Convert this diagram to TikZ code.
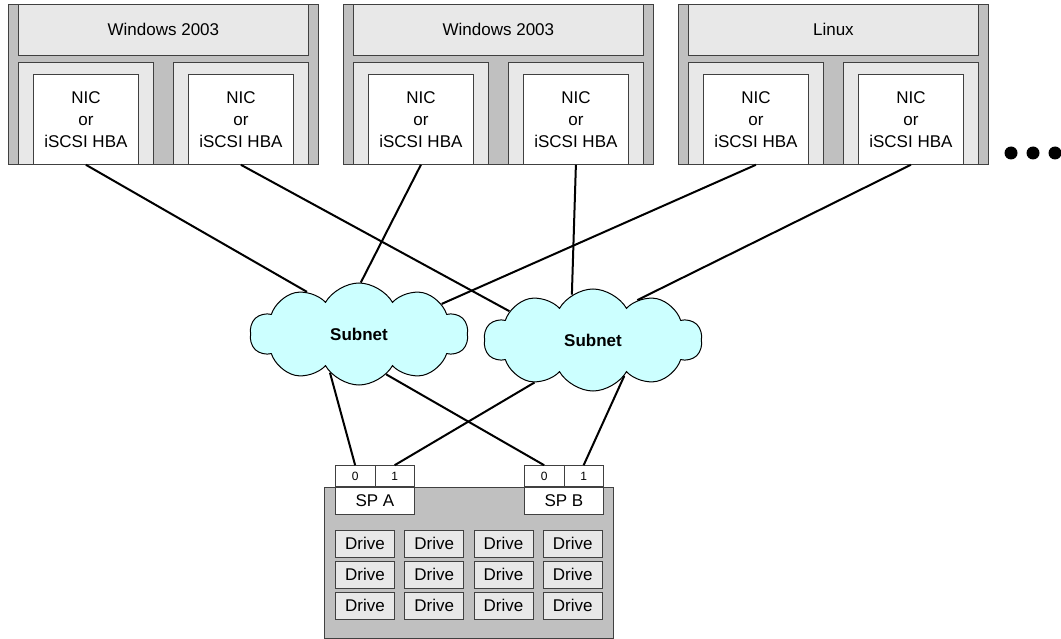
\documentclass[tikz,border=0pt]{standalone}
\usepackage{fontspec}
\setmainfont{Liberation Sans}
\usepackage{tikz}
\usetikzlibrary{positioning, shapes.symbols}

\definecolor{srvdark}{RGB}{192,192,192}
\definecolor{srvlight}{RGB}{232,232,232}
\definecolor{netcyan}{RGB}{204,255,255}

\begin{document}
\begin{tikzpicture}[
    x=1pt, y=1pt,
    font=\fontsize{17}{22}\selectfont,
    box/.style={rectangle, draw=black!75, line width=0.8pt, inner sep=0pt},
    server/.style={box, fill=srvdark, minimum width=310pt, minimum height=160pt},
    header/.style={box, fill=srvlight, minimum width=290pt, minimum height=51pt},
    panel/.style={box, fill=srvlight, minimum width=135pt, minimum height=102pt},
    nic/.style={box, fill=white, align=center, minimum width=105pt, minimum height=90pt},
    subnet/.style={cloud, draw=black, fill=netcyan, line width=1pt, cloud puffs=10, cloud puff arc=120,
        cloud ignores aspect, minimum width=218pt, minimum height=102pt, font=\bfseries\fontsize{17}{20}\selectfont},
    storage/.style={box, fill=srvdark, minimum width=289pt, minimum height=151pt},
    splabel/.style={box, fill=white, minimum width=79pt, minimum height=27pt},
    port/.style={box, fill=white, minimum width=39.5pt, minimum height=21pt, font=\fontsize{12}{14}\selectfont},
    drive/.style={box, fill=srvlight, minimum width=59pt, minimum height=27pt},
    link/.style={draw, line width=2pt}
]

\useasboundingbox (0,0) rectangle (1061,-639);

\foreach \n/\x/\os in {1/8/Windows 2003, 2/343/Windows 2003, 3/678/Linux}{
    \node[server, anchor=north west] (srv\n) at (\x,-4) {};
    \node[header, below=0pt of srv\n.north] (hdr\n) {\os};
    \node[panel, above right=0pt and 10pt of srv\n.south west] (pnlA\n) {};
    \node[panel, above left=0pt and 10pt of srv\n.south east] (pnlB\n) {};
    \node[nic, above=0pt of pnlA\n.south] (nicA\n) {NIC\\or\\iSCSI HBA};
    \node[nic, above=0pt of pnlB\n.south] (nicB\n) {NIC\\or\\iSCSI HBA};
}

\foreach \x in {1011,1033,1055}
    \fill (\x,-153) circle (6.5pt);

\node[subnet] (sub1) at (359,-334) {Subnet};
\node[subnet] (sub2) at (593,-340) {Subnet};

\node[storage, anchor=north west] (array) at (324,-487) {};
\node[splabel, below right=0pt and 11pt of array.north west] (spa) {SP A};
\node[splabel, below left=0pt and 10pt of array.north east] (spb) {SP B};
\node[port, above right=0pt and 0pt of spa.north west] (spa0) {0};
\node[port, above left=0pt and 0pt of spa.north east] (spa1) {1};
\node[port, above right=0pt and 0pt of spb.north west] (spb0) {0};
\node[port, above left=0pt and 0pt of spb.north east] (spb1) {1};

\foreach \c in {0,...,3}
    \foreach \r in {0,...,2}
        \node[drive, anchor=north west] (drv\c\r) at (335+69.3*\c,-530-31*\r) {Drive};

\draw[link] (nicA1.south) -- (sub1.141);
\draw[link] (nicB1.south) -- (sub2.161);
\draw[link] (nicA2.south) -- (sub1.88);
\draw[link] (nicB2.south) -- (sub2.115);
\draw[link] (nicA3.south) -- (sub1.20);
\draw[link] (nicB3.south) -- (sub2.42);
\draw[link] (sub1.233) -- (spa0.north);
\draw[link] (sub1.304) -- (spb0.north);
\draw[link] (sub2.216) -- (spa1.north);
\draw[link] (sub2.311) -- (spb1.north);

\end{tikzpicture}
\end{document}
